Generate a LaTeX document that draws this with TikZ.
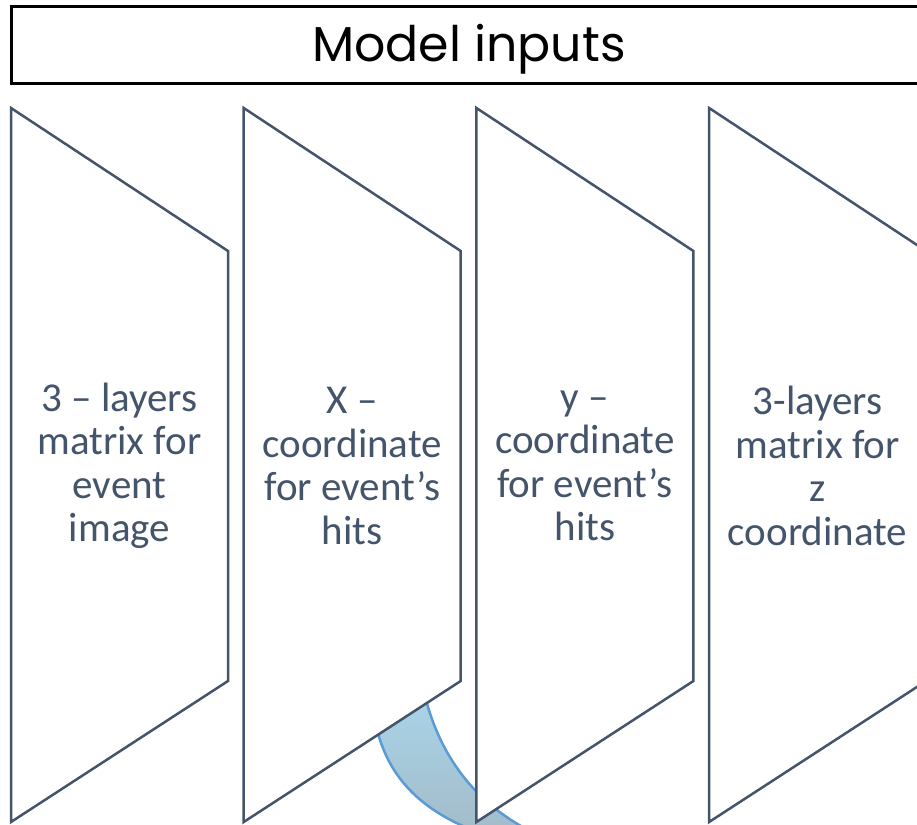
\documentclass[tikz,border=0pt]{standalone}
\usepackage{fontspec}
\setmainfont{Carlito}
\newfontfamily\titlefont{Poppins}
\definecolor{slate}{HTML}{44546A}
\definecolor{bandline}{HTML}{5B9BD5}
\definecolor{bandtop}{HTML}{A9D5E8}
\definecolor{bandbot}{HTML}{A2B9C7}
\begin{document}
\begin{tikzpicture}[x=1pt,y=-1pt,
  panel/.style={draw=slate,line width=2.5pt,fill=white,line join=miter},
  panellabel/.style={text=slate,font=\fontsize{41}{43.5}\selectfont,align=center,inner sep=0pt},
  header/.style={draw=black,line width=3pt,fill=white},
  band/.style={draw=bandline,line width=2.5pt,top color=bandtop,bottom color=bandbot},
  ]
\useasboundingbox (0,0) rectangle (917,824);

% curved arrow band, running behind the panels
\path[band] (372,700) .. controls (380,790) and (440,825) .. (520,845)
  -- (545,838) .. controls (480,810) and (440,760) .. (424,692) -- cycle;

% header bar
\draw[header] (11,7) rectangle (935,84);
\node[font=\titlefont\fontsize{49}{56}\selectfont,inner sep=0pt] (title) at (469,49) {Model inputs};

% four trapezoid panels
\foreach \k/\txt in {0/{3 -- layers\\matrix for\\event\\image},
                     1/{X --\\coordinate\\for event’s\\hits},
                     2/{y --\\coordinate\\for event’s\\hits},
                     3/{3-layers\\matrix for\\z\\coordinate}}{
  \pgfmathsetmacro{\dx}{232.7*\k}
  \begin{scope}[xshift=\dx pt]
    \draw[panel] (11,108) -- (228,251) -- (228,681) -- (11,822) -- cycle;
    \node[panellabel] (panel\k) at (119.5,466) {\txt};
  \end{scope}
}
\end{tikzpicture}
\end{document}
